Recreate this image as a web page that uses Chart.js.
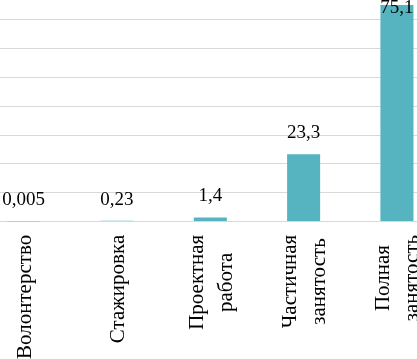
<!DOCTYPE html>
<html><head><meta charset="utf-8">
<script src="https://cdn.jsdelivr.net/npm/chart.js@4.4.1/dist/chart.umd.min.js"></script>
<style>
html,body{margin:0;padding:0;background:#fff;}
body{width:417px;height:359px;overflow:hidden;position:relative;}
#c{position:absolute;left:0;top:0;}
</style></head><body>
<canvas id="c" width="520" height="420"></canvas>
<script>
// ---- data ----
const categories = [["Волонтерство"], ["Стажировка"], ["Проектная", "работа"], ["Частичная", "занятость"], ["Полная", "занятость"]];
const values = [0.005, 0.23, 1.4, 23.3, 75.1];
const valueLabels = ["0,005", "0,23", "1,4", "23,3", "75,1"];
const yMin = 0, yMax = 80, yStep = 10;

// ---- visible-window geometry of the plot area (reference is a cropped chart) ----
const target = { left: -23.45, right: 443.15, top: -8.8, bottom: 221.7 };
const AXIS_FONT = '21px "Liberation Serif", "Times New Roman", serif';
const VALUE_FONT = '19px "Liberation Serif", "Times New Roman", serif';

const labelPlugin = {
  id: 'labels',
  afterDatasetsDraw(chart) {
    const ctx = chart.ctx;
    const meta = chart.getDatasetMeta(0);
    const xs = chart.scales.x;
    ctx.save();
    // value labels
    ctx.font = VALUE_FONT;
    ctx.fillStyle = '#000';
    ctx.textAlign = 'center';
    ctx.textBaseline = 'alphabetic';
    meta.data.forEach((bar, i) => {
      const y = Math.max(bar.y - 16, chart.chartArea.top + 8.8 + 13);
      ctx.fillText(valueLabels[i], bar.x, y);
    });
    // category labels, rotated, lines centred within the block
    ctx.font = AXIS_FONT;
    ctx.textAlign = 'center';
    ctx.textBaseline = 'middle';
    categories.forEach((lines, i) => {
      const cx = xs.getPixelForValue(i) + 1.5;
      const maxW = Math.max(...lines.map(l => ctx.measureText(l).width));
      const cy = chart.chartArea.bottom + 13.3 + maxW / 2;
      const n = lines.length;
      lines.forEach((l, j) => {
        const x = cx + (j - (n - 1) / 2) * 29;
        ctx.save();
        ctx.translate(x, cy);
        ctx.rotate(-Math.PI / 2);
        ctx.fillText(l, 0, 0);
        ctx.restore();
      });
    });
    ctx.restore();
  }
};

const canvas = document.getElementById('c');
const chart = new Chart(canvas, {
  type: 'bar',
  data: {
    labels: categories.map(c => c.join(' ')),
    datasets: [{
      data: values,
      backgroundColor: '#56B4C1',
      borderWidth: 0,
      barPercentage: 0.354,
      categoryPercentage: 1.0
    }]
  },
  options: {
    responsive: false,
    devicePixelRatio: 1,
    animation: false,
    events: [],
    layout: { padding: { left: 0, top: 0, right: 40, bottom: 180 } },
    plugins: { legend: { display: false }, tooltip: { enabled: false } },
    scales: {
      x: {
        display: false,
        grid: { display: false }
      },
      y: {
        min: yMin, max: yMax,
        ticks: { display: false, stepSize: yStep },
        grid: { color: '#d9d9d9', lineWidth: 1, drawTicks: false },
        border: { display: false }
      }
    }
  },
  plugins: [labelPlugin]
});

// fit the plot area to the target size, then shift the canvas so it lands where the reference has it
let ca = chart.chartArea;
chart.options.layout.padding.right += (ca.right - ca.left) - (target.right - target.left);
chart.options.layout.padding.bottom += (ca.bottom - ca.top) - (target.bottom - target.top);
chart.update('none');
ca = chart.chartArea;
canvas.style.left = (target.left - ca.left) + 'px';
canvas.style.top = (target.top - ca.top) + 'px';
</script>
</body></html>
